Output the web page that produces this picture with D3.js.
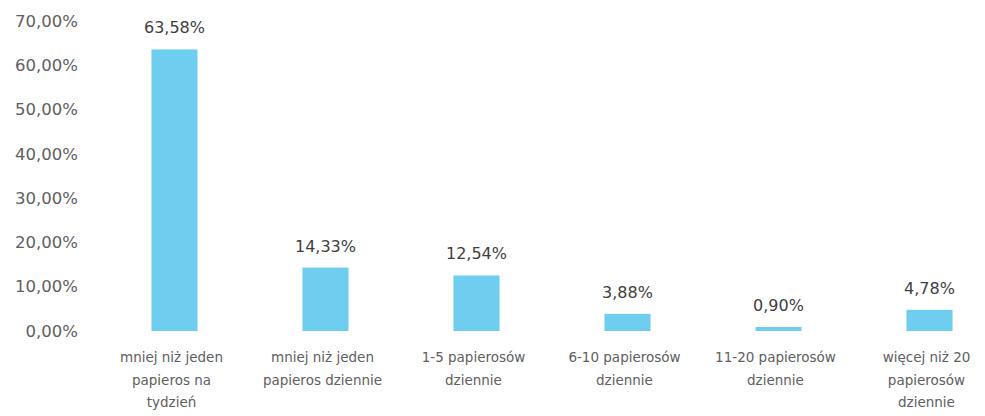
<!DOCTYPE html>
<html>
<head>
<meta charset="utf-8">
<script src="https://cdn.jsdelivr.net/npm/d3@7"></script>
<style>
  html, body { margin: 0; padding: 0; background: #ffffff; }
  svg { display: block; }
  text { font-family: "DejaVu Sans", Verdana, sans-serif; }
</style>
</head>
<body>
<svg id="chart" width="985" height="416"></svg>
<script>
// Liczba wypalanych papierosów – odsetek respondentów
const categories = [
  ["mniej niż jeden", "papieros na", "tydzień"],
  ["mniej niż jeden", "papieros dziennie"],
  ["1-5 papierosów", "dziennie"],
  ["6-10 papierosów", "dziennie"],
  ["11-20 papierosów", "dziennie"],
  ["więcej niż 20", "papierosów", "dziennie"]
];
const values = [63.58, 14.33, 12.54, 3.88, 0.90, 4.78];
const yTicks = [0, 10, 20, 30, 40, 50, 60, 70];

const fmt = v => v.toFixed(2).replace(".", ",") + "%";

const svg = d3.select("#chart");

const x = d3.scaleBand()
  .domain(d3.range(values.length))
  .range([99, 1005])
  .paddingInner(0)
  .paddingOuter(0);

const y = d3.scaleLinear()
  .domain([0, 70])
  .range([331, 21]);

const barW = x.bandwidth() * 0.305;
const cx = i => x(i) + x.bandwidth() / 2;

// oś Y: etykiety bez linii
const yAxis = d3.axisLeft(y)
  .tickValues(yTicks)
  .tickFormat(fmt)
  .tickSize(0)
  .tickPadding(0);

const gy = svg.append("g")
  .attr("transform", "translate(78,0)")
  .call(yAxis);
gy.select(".domain").remove();
gy.selectAll("text")
  .attr("font-family", "DejaVu Sans, sans-serif")
  .attr("font-size", "16.5px")
  .attr("font-weight", 400)
  .attr("fill", "#606060");

// słupki
svg.append("g").selectAll("rect")
  .data(values)
  .join("rect")
  .attr("x", (d, i) => cx(i) - barW / 2)
  .attr("y", d => y(d))
  .attr("width", barW)
  .attr("height", d => y(0) - y(d))
  .attr("fill", "#6fcdf0");

// etykiety wartości
svg.append("g").selectAll("text")
  .data(values)
  .join("text")
  .attr("x", (d, i) => cx(i))
  .attr("y", d => y(d) - 16)
  .attr("text-anchor", "middle")
  .attr("font-size", "16px")
  .attr("font-weight", 400)
  .attr("fill", "#404040")
  .text(fmt);

// etykiety kategorii
const cat = svg.append("g").selectAll("text")
  .data(categories)
  .join("text")
  .attr("x", (d, i) => cx(i) - 3)
  .attr("y", 362)
  .attr("text-anchor", "middle")
  .attr("font-size", "13.5px")
  .attr("font-weight", 400)
  .attr("fill", "#606060");

cat.selectAll("tspan")
  .data(d => d)
  .join("tspan")
  .attr("x", function () { return d3.select(this.parentNode).attr("x"); })
  .attr("dy", (d, j) => j === 0 ? 0 : 22.5)
  .text(d => d);
</script>
</body>
</html>
